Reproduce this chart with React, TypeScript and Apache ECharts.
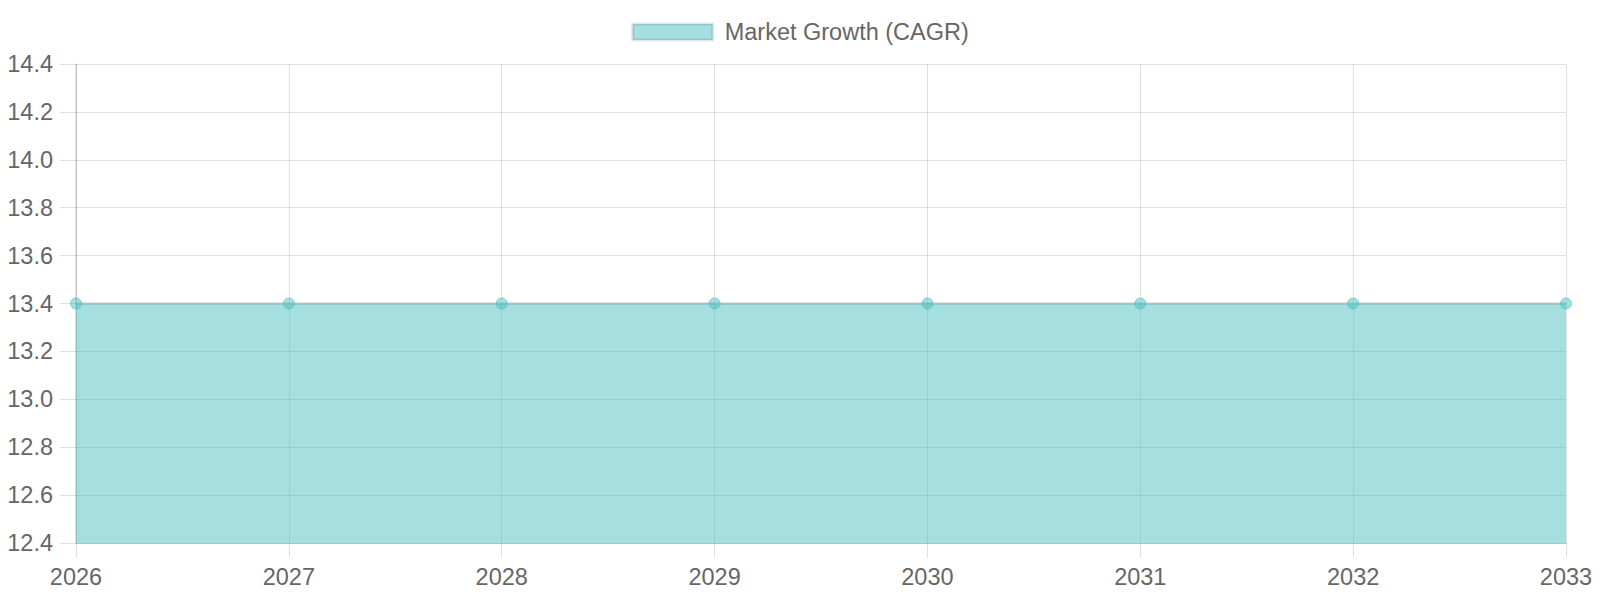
import React, { useEffect, useRef } from "react";
import * as echarts from "echarts";

const years = ["2026", "2027", "2028", "2029", "2030", "2031", "2032", "2033"];
const cagr = [13.4, 13.4, 13.4, 13.4, 13.4, 13.4, 13.4, 13.4];
const seriesName = "Market Growth (CAGR)";
const yMin = 12.4;
const yMax = 14.4;
const yStep = 0.2;

const FONT = "'Liberation Sans', Arial, Helvetica, sans-serif";
const GRID = "rgba(0,0,0,0.12)";
const FS = 23.5;

export default function App() {
  const ref = useRef<HTMLDivElement>(null);
  useEffect(() => {
    if (!ref.current) return;
    const chart = echarts.init(ref.current, null, { renderer: "svg" });
    chart.setOption({
      animation: false,
      textStyle: { fontFamily: FONT },
      legend: {
        top: 15,
        left: "center",
        icon: "rect",
        itemWidth: 80,
        itemHeight: 16,
        itemGap: 10,
        textStyle: { color: "#666", fontSize: FS, fontFamily: FONT, padding: [0, 0, 0, 7] },
        itemStyle: {
          color: "rgba(75,192,192,0.5)",
          borderColor: "rgba(0,0,0,0.1)",
          borderWidth: 3,
        },
        data: [seriesName],
      },
      grid: { left: 76, right: 34, top: 64, bottom: 57, containLabel: false },
      xAxis: {
        type: "category",
        data: years,
        boundaryGap: false,
        axisLine: { show: true, lineStyle: { color: "rgba(0,0,0,0.15)", width: 1 } },
        axisTick: { show: true, length: 15, lineStyle: { color: GRID } },
        axisLabel: { color: "#666", fontSize: FS, margin: 22, fontFamily: FONT },
        splitLine: { show: true, lineStyle: { color: GRID, width: 1 } },
      },
      yAxis: {
        type: "value",
        min: yMin,
        max: yMax,
        interval: yStep,
        axisLine: { show: true, lineStyle: { color: "rgba(0,0,0,0.16)", width: 1.5 } },
        axisTick: { show: true, length: 16, lineStyle: { color: GRID } },
        axisLabel: {
          color: "#666",
          fontSize: FS,
          margin: 23,
          fontFamily: FONT,
          formatter: (v: number) => v.toFixed(1),
        },
        splitLine: { show: true, lineStyle: { color: GRID, width: 1 } },
      },
      series: [
        {
          name: seriesName,
          type: "line",
          data: cagr,
          symbol: "circle",
          symbolSize: 11,
          showSymbol: true,
          lineStyle: { color: "rgba(0,0,0,0.1)", width: 3 },
          itemStyle: {
            color: "rgba(75,192,192,0.5)",
            borderColor: "rgba(75,192,192,0.6)",
            borderWidth: 1,
          },
          areaStyle: { color: "rgba(75,192,192,0.5)", opacity: 1, origin: "start" },
        },
      ],
    });
    return () => chart.dispose();
  }, []);
  return <div ref={ref} style={{ width: 1600, height: 600, margin: -8 }} />;
}
